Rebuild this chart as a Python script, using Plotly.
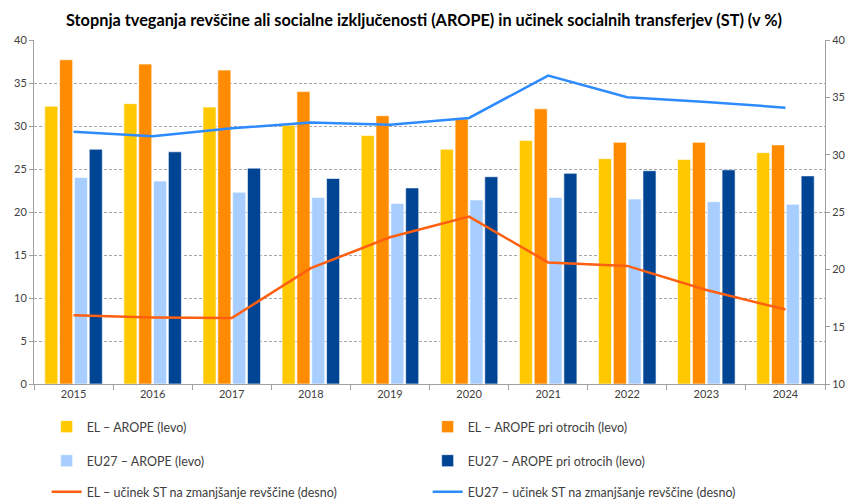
import plotly.graph_objects as go

years = ["2015", "2016", "2017", "2018", "2019", "2020", "2021", "2022", "2023", "2024"]
el_arope = [32.3, 32.6, 32.2, 30.1, 28.9, 27.3, 28.3, 26.2, 26.1, 26.9]
el_arope_children = [37.7, 37.2, 36.5, 34.0, 31.2, 30.8, 32.0, 28.1, 28.1, 27.8]
eu_arope = [24.0, 23.6, 22.3, 21.7, 21.0, 21.4, 21.7, 21.5, 21.2, 20.9]
eu_arope_children = [27.3, 27.0, 25.1, 23.9, 22.8, 24.1, 24.5, 24.8, 24.9, 24.2]
el_st_effect = [16.0, 15.8, 15.75, 20.1, 22.8, 24.6, 20.6, 20.3, 18.2, 16.5]
eu_st_effect = [32.0, 31.6, 32.3, 32.8, 32.6, 33.2, 36.9, 35.0, 34.6, 34.1]

names = [
    "EL – AROPE (levo)",
    "EL – AROPE pri otrocih (levo)",
    "EU27 – AROPE (levo)",
    "EU27 – AROPE pri otrocih (levo)",
    "EL – učinek ST na zmanjšanje revščine (desno)",
    "EU27 – učinek ST na zmanjšanje revščine (desno)",
]

FONT = "Lato, 'Open Sans', sans-serif"
TXT = "#404040"

fig = go.Figure()
bar_series = [el_arope, el_arope_children, eu_arope, eu_arope_children]
bar_colors = ["#FFC800", "#FF8C00", "#A8CEFF", "#004494"]
bar_legends = ["legend", "legend", "legend2", "legend2"]
for vals, nm, col, lg in zip(bar_series, names[:4], bar_colors, bar_legends):
    fig.add_trace(go.Bar(x=years, y=vals, name=nm, marker=dict(color=col, line=dict(color="rgba(255,255,255,0.6)", width=1)),
                         legend=lg, yaxis="y"))

fig.add_trace(go.Scatter(x=years, y=el_st_effect, name=names[4], mode="lines",
                         line=dict(color="#FF5F0F", width=2.5), yaxis="y2", legend="legend3"))
fig.add_trace(go.Scatter(x=years, y=eu_st_effect, name=names[5], mode="lines",
                         line=dict(color="#2E8BFF", width=2.5), yaxis="y2", legend="legend3"))

leg_common = dict(orientation="h", entrywidth=336, entrywidthmode="pixels", xanchor="left", x=0.016,
                  yanchor="middle", bgcolor="rgba(0,0,0,0)", font=dict(family=FONT, size=12.5, color=TXT),
                  itemwidth=30, traceorder="normal")

fig.update_layout(
    width=848, height=500,
    margin=dict(l=34, r=23, t=40, b=116, autoexpand=False),
    paper_bgcolor="white", plot_bgcolor="white",
    font=dict(family=FONT, size=11, color=TXT),
    title=dict(text="<b>Stopnja tveganja revščine ali socialne izključenosti (AROPE) in učinek socialnih transferjev (ST) (v %)</b>",
               x=0.5, xanchor="center", y=0.96, yanchor="middle",
               font=dict(family=FONT, size=16.3, color="#000000")),
    barmode="group", bargap=0.25, bargroupgap=0.12,
    xaxis=dict(type="category", showline=True, linecolor="#A0A0A0", linewidth=1,
               ticks="outside", tickson="boundaries", ticklen=5, tickcolor="#A0A0A0",
               tickfont=dict(size=11, color=TXT)),
    yaxis=dict(range=[0, 40], dtick=5, showline=True, linecolor="#A0A0A0", linewidth=1,
               ticks="outside", ticklen=4, tickcolor="#A0A0A0",
               showgrid=True, gridcolor="#A6A6A6", griddash="3px,2px", gridwidth=1,
               zeroline=False, tickfont=dict(size=11, color=TXT)),
    yaxis2=dict(range=[10, 40], dtick=5, overlaying="y", side="right", showline=True,
                linecolor="#A0A0A0", linewidth=1, ticks="outside", ticklen=4, tickcolor="#A0A0A0",
                showgrid=False, zeroline=False, tickfont=dict(size=11, color=TXT)),
    legend=dict(**leg_common, y=-0.125),
    legend2=dict(**leg_common, y=-0.224),
    legend3=dict(**leg_common, y=-0.314),
)

fig.write_html("out.html", config={"displayModeBar": False},
               post_script="document.body.style.margin='0';document.body.style.padding='0';")
